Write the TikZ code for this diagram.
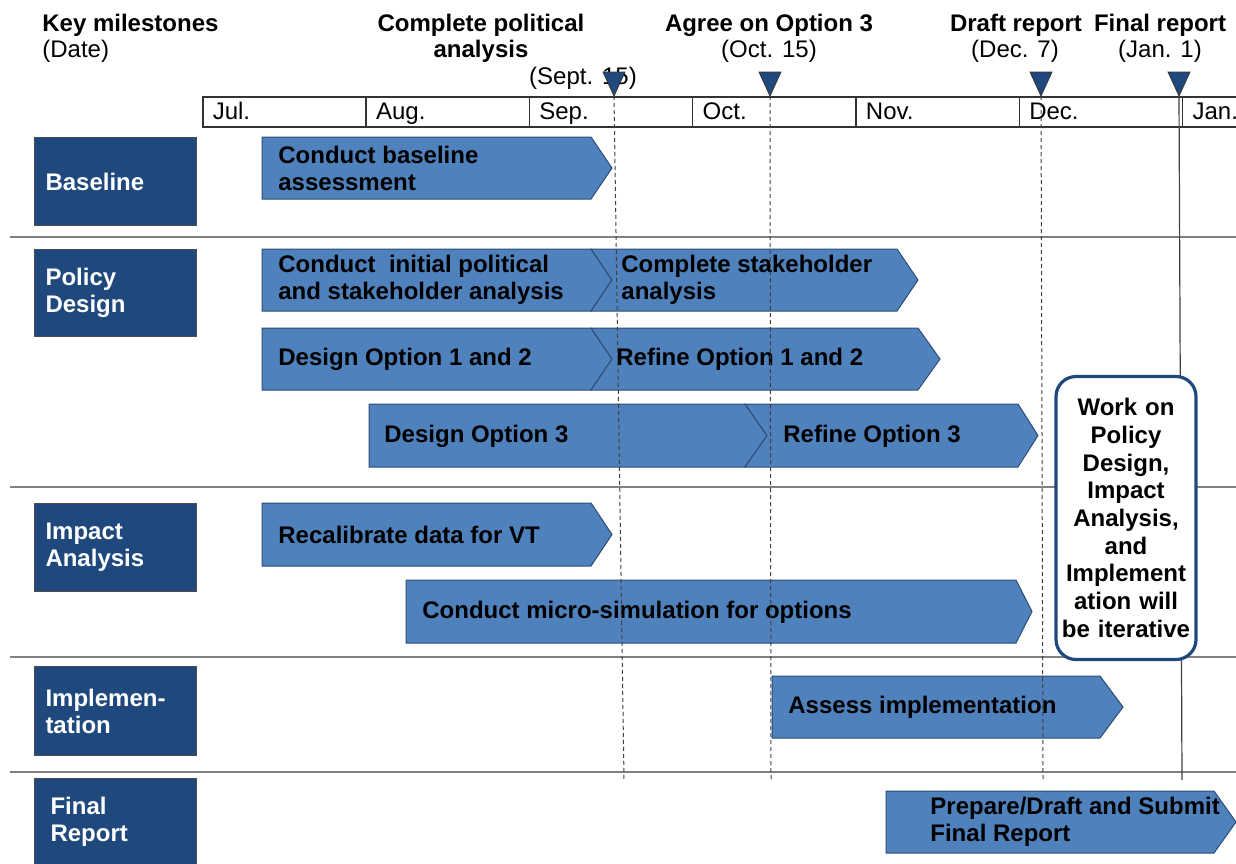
\documentclass[tikz,border=0pt]{standalone}
\usepackage{fontspec}
\setmainfont{Liberation Sans}
\usepackage{xcolor}

\definecolor{phaseblue}{RGB}{31,73,125}
\definecolor{barblue}{RGB}{79,129,189}
\definecolor{barline}{RGB}{44,77,117}
\definecolor{rowgray}{RGB}{128,128,128}

\tikzset{
	phasebox/.style={fill=phaseblue, draw=black!70, line width=0.5pt, anchor=north west,
		minimum width=81pt, minimum height=44pt, text width=70pt, inner xsep=5.5pt,
		align=left, text=white, font=\bfseries\fontsize{12}{13.5}\selectfont},
	monthcell/.style={draw=black!80, line width=0.75pt, anchor=north west,
		minimum width=81.65pt, minimum height=15pt, text width=71.65pt, inner xsep=5pt,
		inner ysep=0pt, text height=9.6pt, text depth=1.6pt, align=left,
		font=\fontsize{12}{13.5}\selectfont},
	taskbar/.style={fill=barblue, draw=barline, line width=0.5pt},
	tasktext/.style={anchor=west, align=left, inner sep=0pt,
		font=\bfseries\fontsize{12}{13.5}\selectfont},
	mstitle/.style={anchor=base, inner sep=0pt, font=\bfseries\fontsize{12}{13.5}\selectfont},
	msdate/.style={anchor=base, inner sep=0pt, font=\fontsize{12}{13.5}\selectfont},
	msmark/.style={fill=phaseblue, draw=black!80, line width=0.4pt},
	msline/.style={draw=black!75, line width=0.5pt, dash pattern=on 2pt off 1.5pt},
	finalline/.style={draw=black!75, line width=0.6pt},
	rowline/.style={draw=rowgray, line width=1pt},
	iterbox/.style={draw=phaseblue, line width=1.6pt, fill=white, rounded corners=10pt,
		minimum width=70pt, minimum height=141.5pt, text width=66pt, inner xsep=2pt,
		align=center, font=\bfseries\fontsize{12}{13.85}\selectfont}
}

\begin{document}
\begin{tikzpicture}[x=0.5pt,y=-0.5pt]
	\useasboundingbox (0,0) rectangle (1236,863);
	
	% header
	\node[mstitle, anchor=base west] (keyms) at (42,31) {Key milestones};
	\node[msdate, anchor=base west] (keydate) at (42,57) {(Date)};
	\node[mstitle] (polttl) at (481,31) {Complete political};
	\node[mstitle] (polttl2) at (481,57) {analysis};
	\node[msdate] (poldate) at (583,84) {(Sept. 15)};
	\node[mstitle] (optttl) at (769,31) {Agree on Option 3};
	\node[msdate] (optdate) at (769,57) {(Oct. 15)};
	\node[mstitle] (draftttl) at (1016,31) {Draft report};
	\node[msdate] (draftdate) at (1015,57) {(Dec. 7)};
	\node[mstitle] (finalttl) at (1160,31) {Final report};
	\node[msdate] (finaldate) at (1160,57) {(Jan. 1)};
	
	\foreach \m [count=\i from 0] in {Jul.,Aug.,Sep.,Oct.,Nov.,Dec.,Jan.}{
		\node[monthcell] (month\i) at ({202+163.3*\i},96) {\m};
	}
	
	\foreach \y in {237,487,657,772}{
		\draw[rowline] (10,\y) -- (1236,\y);
	}
	
	% phases
	\node[phasebox] (baseline) at (34,137) {Baseline};
	\node[phasebox, minimum height=43.5pt] (policy) at (34,249) {Policy\\Design};
	\node[phasebox] (impact) at (34,503) {Impact\\Analysis};
	\node[phasebox, minimum height=44.5pt] (implement) at (34,666) {Implemen-\\tation};
	\node[phasebox, minimum height=43.5pt, inner xsep=8pt, text width=65pt] (finalrep) at (34,778) {Final\\Report};
	
	% bars: left/notch/end/tip/top/bottom
	\foreach \l/\n/\e/\t/\a/\b in {262/0/591/612/137/199, 262/0/591/612/249/311,
		591/21/897/918/249/311, 262/0/591/612/328/390, 591/21/918/940/328/390,
		369/0/745/767/404/467, 745/22/1018/1038/404/467, 262/0/591/612/503/566,
		406/0/1016/1032/580/643, 772/0/1100/1123/676/738, 886/0/1214/1236/791/853}{
		\draw[taskbar] (\l,\a) -- (\e,\a) -- (\t,{(\a+\b)/2}) -- (\e,\b) -- (\l,\b)
			-- ({\l+\n},{(\a+\b)/2}) -- cycle;
	}
	\node[tasktext] (t-base) at (278,168) {Conduct baseline\\assessment};
	\node[tasktext] (t-pol) at (278,280) {Conduct \ initial political\\and stakeholder analysis};
	\node[tasktext] (t-stake) at (621,280) {Complete stakeholder\\analysis};
	\node[tasktext] (t-opt) at (278,359) {Design Option 1 and 2};
	\node[tasktext] (t-refopt) at (616,359) {Refine Option 1 and 2};
	\node[tasktext] (t-opt3) at (384,436) {Design Option 3};
	\node[tasktext] (t-refopt3) at (783,436) {Refine Option 3};
	\node[tasktext] (t-recal) at (278,535) {Recalibrate data for VT};
	\node[tasktext] (t-micro) at (422,612) {Conduct micro-simulation for options};
	\node[tasktext] (t-assess) at (788,707) {Assess implementation};
	\node[tasktext] (t-final) at (930,822) {Prepare/Draft and Submit\\Final Report};
	
	% milestones
	\coordinate (ms-sep) at (614,96);
	\coordinate (ms-oct) at (770,96);
	\coordinate (ms-dec) at (1041,96);
	\coordinate (ms-jan) at (1179,96);
	\coordinate (end-sep) at (624,780);
	\coordinate (end-oct) at (771,780);
	\coordinate (end-dec) at (1043,782);
	\coordinate (end-jan) at (1182,780);
	\draw[msline] (ms-sep) -- (end-sep);
	\draw[msline] (ms-oct) -- (end-oct);
	\draw[msline] (ms-dec) -- (end-dec);
	\draw[finalline] (ms-jan) -- (end-jan);
	\foreach \c in {ms-sep,ms-oct,ms-dec,ms-jan}{
		\filldraw[msmark] (\c) -- ++(-11,-24) -- ++(22,0) -- cycle;
	}
	
	\node[iterbox] (iter) at (1126,518) {Work on\\Policy\\Design,\\Impact\\Analysis,\\and\\Implement\\ation will\\be iterative};
\end{tikzpicture}
\end{document}
